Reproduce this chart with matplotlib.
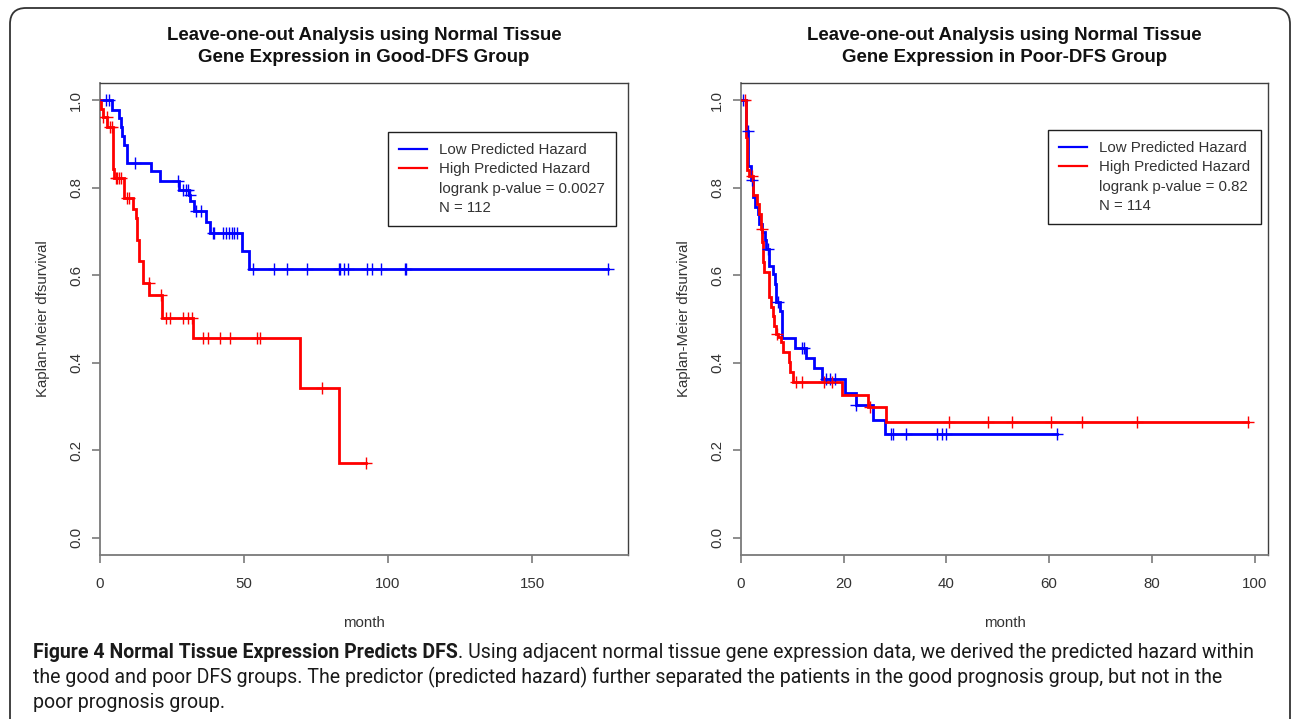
import matplotlib
matplotlib.use('Agg')
import matplotlib.pyplot as plt
from matplotlib.lines import Line2D
from matplotlib.patches import FancyBboxPatch
from matplotlib.transforms import IdentityTransform
from matplotlib import font_manager

W, H = 1292, 719

# ---------------- data ----------------
# Left panel: Good-DFS group
good_low_t = [0, 4.2, 6.7, 7.2, 7.8, 8.5, 9.3, 17.7, 20.8, 27.5, 30.9, 31.3, 32.8, 36.7, 38.2, 49.4, 51.9]
good_low_s = [1.0, 0.979, 0.960, 0.939, 0.918, 0.898, 0.857, 0.838, 0.815, 0.795, 0.783, 0.771, 0.746, 0.722, 0.697, 0.656, 0.615]
good_low_end = 176.5
good_low_cens = [2.0, 3.1, 12.2, 27.2, 28.9, 29.7, 30.4, 31.1, 33.3, 35.1, 39.3, 39.7, 42.8, 43.7, 44.9,
                 45.7, 46.5, 47.4, 53.0, 60.3, 65.0, 72.0, 82.8, 83.3, 84.8, 86.2, 92.6, 94.5, 97.5,
                 105.9, 106.2, 176.5]

good_high_t = [0, 0.5, 0.9, 2.6, 4.4, 5.0, 8.4, 11.6, 12.4, 12.7, 13.7, 14.8, 17.1, 21.5, 32.2, 69.4, 82.8]
good_high_s = [1.0, 0.980, 0.962, 0.940, 0.844, 0.823, 0.776, 0.752, 0.731, 0.681, 0.632, 0.582, 0.556, 0.502, 0.456, 0.343, 0.171]
good_high_end = 92.4
good_high_cens = [1.1, 2.3, 3.5, 4.0, 5.4, 6.0, 6.6, 7.3, 9.3, 10.2, 17.0, 21.2, 22.9, 24.3, 28.9, 30.4,
                  32.0, 35.9, 37.6, 41.7, 45.1, 54.4, 55.6, 77.2, 92.4]

# Right panel: Poor-DFS group
poor_low_t = [0, 0.9, 1.4, 1.9, 2.4, 2.7, 3.4, 3.6, 4.0, 4.7, 4.9, 5.5, 6.3, 6.6, 6.9, 7.6, 7.9,
              10.5, 12.6, 14.3, 15.8, 20.2, 22.3, 25.7, 28.0]
poor_low_s = [1.0, 0.931, 0.851, 0.817, 0.779, 0.756, 0.741, 0.718, 0.699, 0.680, 0.661, 0.622, 0.603,
              0.581, 0.540, 0.519, 0.457, 0.434, 0.410, 0.387, 0.363, 0.331, 0.304, 0.269, 0.237]
poor_low_end = 61.5
poor_low_cens = [0.45, 1.3, 2.1, 5.3, 7.2, 11.8, 12.2, 16.5, 17.3, 18.3, 22.4, 29.2, 29.5, 32.2,
                 38.1, 39.2, 39.9, 61.5]

poor_high_t = [0, 0.9, 1.2, 1.6, 2.3, 3.2, 3.6, 3.8, 4.1, 4.3, 4.5, 5.4, 5.8, 6.2, 6.5, 6.9, 7.3,
               7.7, 8.2, 9.3, 9.6, 10.2, 19.7, 24.8, 28.2]
poor_high_s = [1.0, 0.916, 0.840, 0.828, 0.783, 0.764, 0.741, 0.706, 0.676, 0.630, 0.607, 0.550, 0.528,
               0.508, 0.485, 0.466, 0.458, 0.447, 0.424, 0.401, 0.378, 0.355, 0.327, 0.298, 0.264]
poor_high_end = 98.7
poor_high_cens = [0.8, 2.2, 4.0, 7.1, 10.7, 11.9, 16.2, 17.8, 25.1, 40.5, 48.0, 52.8, 60.4, 66.4,
                  77.0, 98.7]

titles = ["Leave-one-out Analysis using Normal Tissue\nGene Expression in Good-DFS Group",
          "Leave-one-out Analysis using Normal Tissue\nGene Expression in Poor-DFS Group"]
legend_labels = ["Low Predicted Hazard", "High Predicted Hazard"]
stats_left = ["logrank p-value = 0.0027", "N = 112"]
stats_right = ["logrank p-value = 0.82", "N = 114"]
xticks_left = [0, 50, 100, 150]
xticks_right = [0, 20, 40, 60, 80, 100]
yticks = [0.0, 0.2, 0.4, 0.6, 0.8, 1.0]
xlabel = "month"
ylabel = "Kaplan-Meier dfsurvival"
caption_bold = "Figure 4 Normal Tissue Expression Predicts DFS"
caption_lines = [". Using adjacent normal tissue gene expression data, we derived the predicted hazard within",
                 "the good and poor DFS groups. The predictor (predicted hazard) further separated the patients in the good prognosis group, but not in the",
                 "poor prognosis group."]

BLUE = "#0000ff"
RED = "#ff0000"
AX_GRAY = "#7a7a7a"
TXT = "#333333"
FS = 10.8

plt.rcParams['font.family'] = ['Liberation Sans', 'DejaVu Sans']

fig = plt.figure(figsize=(W / 100, H / 100), dpi=100)


def px_axes(l, t, r, b):
    return fig.add_axes([l / W, 1 - b / H, (r - l) / W, (b - t) / H])


def surv_at(ts, ss, x):
    val = ss[0]
    for t, s in zip(ts, ss):
        if t <= x:
            val = s
    return val


def km(ax, ts, ss, end, cens, color):
    xs = list(ts) + [end]
    ys = list(ss) + [ss[-1]]
    ax.step(xs, ys, where='post', color=color, lw=2.0, solid_joinstyle='miter', zorder=3)
    cy = [surv_at(ts, ss, c) for c in cens]
    ax.plot(cens, cy, ls='none', marker='+', ms=9, mew=1.0, color=color, zorder=4)


def style(ax, xmax, xticks):
    ax.set_xlim(0, xmax)
    ax.set_ylim(-0.04, 1.04)
    ax.set_xticks(xticks)
    ax.set_xticklabels([str(v) for v in xticks])
    ax.set_yticks(yticks)
    ax.set_yticklabels(["%.1f" % v for v in yticks], rotation=90, va='center')
    for side in ['left', 'bottom']:
        ax.spines[side].set_color(AX_GRAY)
        ax.spines[side].set_linewidth(1.3)
    for side in ['top', 'right']:
        ax.spines[side].set_color('#404040')
        ax.spines[side].set_linewidth(1.0)
    ax.tick_params(axis='both', direction='out', length=6, width=1.2, color=AX_GRAY,
                   labelsize=FS, labelcolor=TXT)
    ax.tick_params(axis='x', pad=9.5)
    ax.tick_params(axis='y', pad=6)
    ax.set_xlabel(xlabel, fontsize=FS, color=TXT, labelpad=18)
    ax.set_ylabel(ylabel, fontsize=FS, color=TXT, labelpad=14)


def add_legend(ax, stats, anchor):
    handles = [Line2D([], [], color=BLUE, lw=1.6), Line2D([], [], color=RED, lw=1.6),
               Line2D([], [], color='none'), Line2D([], [], color='none')]
    leg = ax.legend(handles, legend_labels + stats, loc='upper left', bbox_to_anchor=anchor,
                    frameon=True, fancybox=False, framealpha=1, edgecolor='#202020',
                    fontsize=FS, handlelength=1.9, handletextpad=0.8, labelspacing=0.36,
                    borderpad=0.72, borderaxespad=0)
    leg.get_frame().set_linewidth(1.0)
    for t in leg.get_texts():
        t.set_color(TXT)


# Left panel
axL = px_axes(100, 83, 628, 555)
km(axL, good_low_t, good_low_s, good_low_end, good_low_cens, BLUE)
km(axL, good_high_t, good_high_s, good_high_end, good_high_cens, RED)
style(axL, 183.3, xticks_left)
add_legend(axL, stats_left, (0.5455, 0.896))

# Right panel
axR = px_axes(741, 83, 1268, 555)
km(axR, poor_low_t, poor_low_s, poor_low_end, poor_low_cens, BLUE)
km(axR, poor_high_t, poor_high_s, poor_high_end, poor_high_cens, RED)
style(axR, 102.6, xticks_right)
add_legend(axR, stats_right, (0.5825, 0.9004))

# Titles
for ax, title in zip([axL, axR], titles):
    bb = ax.get_position()
    cx = (bb.x0 + bb.x1) / 2
    l1, l2 = title.split("\n")
    fig.text(cx, 1 - 36 / H, l1, ha='center', va='center', fontsize=13.4, fontweight='bold', color='#111111')
    fig.text(cx, 1 - 58 / H, l2, ha='center', va='center', fontsize=13.4, fontweight='bold', color='#111111')

# Outer rounded border
border = FancyBboxPatch((10, -40), 1280, H - 8 + 40, boxstyle="round,pad=0,rounding_size=16",
                        transform=IdentityTransform(), fill=False, edgecolor='#333333', lw=1.3)
fig.patches.append(border)

# Caption
names = {f.name for f in font_manager.fontManager.ttflist}
cap_font = next((n for n in ['Liberation Sans Narrow', 'DejaVu Sans Condensed', 'Roboto', 'Open Sans']
                 if n in names), 'DejaVu Sans')
renderer = fig.canvas.get_renderer()
probe_b = fig.text(0, 0, caption_bold, fontsize=12, fontweight='bold', family=cap_font)
probe_n = fig.text(0, 0, caption_lines[0], fontsize=12, family=cap_font)
wtot = probe_b.get_window_extent(renderer).width + probe_n.get_window_extent(renderer).width
probe_b.remove()
probe_n.remove()
cap_size = 12 * 1217 / wtot

x0 = 33
ys = [652, 677, 703]
tb = fig.text(x0 / W, 1 - ys[0] / H, caption_bold, fontsize=cap_size, fontweight='bold',
              family=cap_font, color='#1a1a1a', va='center', ha='left')
bw = tb.get_window_extent(renderer).width
fig.text((x0 + bw) / W, 1 - ys[0] / H, caption_lines[0], fontsize=cap_size, family=cap_font,
         color='#1a1a1a', va='center', ha='left')
for line, y in zip(caption_lines[1:], ys[1:]):
    fig.text(x0 / W, 1 - y / H, line, fontsize=cap_size, family=cap_font, color='#1a1a1a',
             va='center', ha='left')

fig.savefig("out.png", dpi=100, facecolor='white')
